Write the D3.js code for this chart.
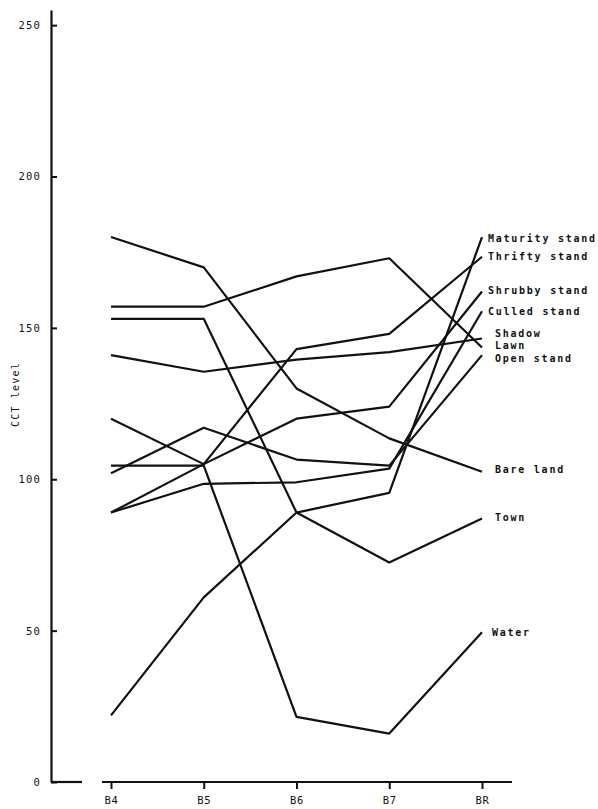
<!DOCTYPE html>
<html>
<head>
<meta charset="utf-8">
<script src="https://cdn.jsdelivr.net/npm/d3@7"></script>
<style>
  body { margin: 0; background: #fff; }
  svg { display: block; }
</style>
</head>
<body>
<svg id="chart"></svg>
<script>
// Bands along the x axis and the y tick values
const bands = ["B4", "B5", "B6", "B7", "BR"]
const yTicks = [0, 50, 100, 150, 200, 250]

// CCT level per band
const maturityStand = [153, 153, 89, 95.5, 180]
const thriftyStand = [120, 105, 143, 148, 173.5]
const shrubbyStand = [89, 105, 120, 124, 162]
const culledStand = [89, 98.5, 99, 103.5, 155.5]
const shadow = [141, 135.5, 139.5, 142, 146.5]
const lawn = [157, 157, 167, 173, 143.5]
const openStand = [102, 117, 106.5, 104.5, 141]
const bareLand = [180, 170, 130, 113.5, 102.5]
const town = [22, 61, 89, 72.5, 87]
const water = [104.5, 104.5, 21.5, 16, 49.5]

const series = [
  { name: "Maturity stand", values: maturityStand },
  { name: "Thrifty stand", values: thriftyStand },
  { name: "Shrubby stand", values: shrubbyStand },
  { name: "Culled stand", values: culledStand },
  { name: "Shadow", values: shadow },
  { name: "Lawn", values: lawn },
  { name: "Open stand", values: openStand },
  { name: "Bare land", values: bareLand },
  { name: "Town", values: town },
  { name: "Water", values: water }
]

// label offsets from the BR end of each line (dx, dy)
const labelNudge = {
  "Maturity stand": [6, 1],
  "Thrifty stand": [6, 0],
  "Shrubby stand": [6, -1],
  "Culled stand": [6, 0],
  "Shadow": [13, -5],
  "Lawn": [13, -2],
  "Open stand": [13, 3],
  "Bare land": [13, -2],
  "Town": [13, -1],
  "Water": [10, 0]
}

const width = 598
const height = 809
const svg = d3.select("#chart")
  .attr("width", width)
  .attr("height", height)

const x = d3.scalePoint()
  .domain(bands)
  .range([111, 482])

const y = d3.scaleLinear()
  .domain([0, 255])
  .range([782, 10])

const axisX0 = 51
const mono = "DejaVu Sans Mono, monospace"

// y axis, ticks pointing into the plot
svg.append("g")
  .attr("transform", `translate(${axisX0},0)`)
  .call(d3.axisLeft(y)
    .tickValues(yTicks)
    .tickSizeInner(-6)
    .tickSizeOuter(0)
    .tickPadding(10))
  .call(g => g.select(".domain").attr("stroke", "#111").attr("stroke-width", 2.2))
  .call(g => g.selectAll(".tick line").attr("stroke", "#111").attr("stroke-width", 2))
  .call(g => g.selectAll(".tick text")
    .attr("fill", "#111")
    .attr("font-family", mono)
    .attr("font-size", 10.5)
    .attr("letter-spacing", 1.2))

// x axis, baseline is broken before the first band
const gx = svg.append("g")
  .attr("transform", `translate(0,${y(0)})`)
  .call(d3.axisBottom(x).tickSizeInner(7).tickSizeOuter(0).tickPadding(8))
  .call(g => g.select(".domain").remove())
  .call(g => g.selectAll(".tick line").attr("stroke", "#111").attr("stroke-width", 2))
  .call(g => g.selectAll(".tick text")
    .attr("fill", "#111")
    .attr("font-family", mono)
    .attr("font-size", 10.5)
    .attr("letter-spacing", 0.8))

gx.append("line")
  .attr("x1", axisX0).attr("x2", x("B4") - 29)
  .attr("stroke", "#111").attr("stroke-width", 2.2)
gx.append("line")
  .attr("x1", x("B4") - 9).attr("x2", x("BR") + 30)
  .attr("stroke", "#111").attr("stroke-width", 2.2)

// y axis title
svg.append("text")
  .attr("transform", `translate(15,${y(128)}) rotate(-90)`)
  .attr("text-anchor", "middle")
  .attr("dy", "0.35em")
  .attr("font-family", mono)
  .attr("font-size", 10)
  .attr("letter-spacing", 1.2)
  .attr("fill", "#111")
  .text("CCT level")

const line = d3.line()
  .x((d, i) => x(bands[i]))
  .y(d => y(d))

svg.append("g")
  .selectAll("path")
  .data(series)
  .join("path")
  .attr("d", d => line(d.values))
  .attr("fill", "none")
  .attr("stroke", "#111")
  .attr("stroke-width", 2.2)
  .attr("stroke-linejoin", "round")

svg.append("g")
  .selectAll("text")
  .data(series)
  .join("text")
  .attr("x", d => x("BR") + labelNudge[d.name][0])
  .attr("y", d => y(d.values[4]) + labelNudge[d.name][1])
  .attr("dy", "0.35em")
  .attr("font-family", mono)
  .attr("font-size", 10)
  .attr("letter-spacing", 1.75)
  .attr("font-weight", "bold")
  .attr("fill", "#111")
  .text(d => d.name)
</script>
</body>
</html>
